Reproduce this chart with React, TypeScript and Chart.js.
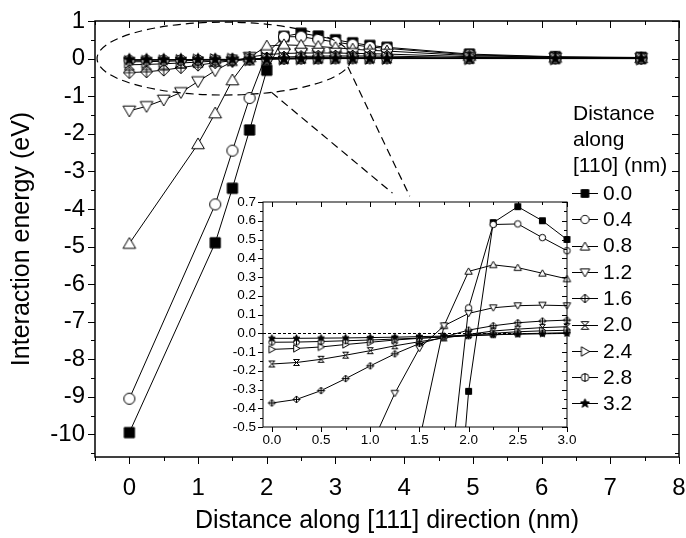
import React, { useEffect, useRef } from "react";
import { Chart, registerables } from "chart.js";

Chart.register(...registerables);

const FONT = "'Liberation Sans', Arial, Helvetica, sans-serif";

// Distance along [111] (nm)
const distance111 = [0, 0.25, 0.5, 0.75, 1, 1.25, 1.5, 1.75, 2, 2.25, 2.5, 2.75, 3, 3.25, 3.5, 3.75, 4.95, 6.2, 7.45];

// Distance along [110] (nm) - series labels
const series110Labels = ["0.0", "0.4", "0.8", "1.2", "1.6", "2.0", "2.4", "2.8", "3.2"];

// Interaction energy (eV) per series
const energy00 = [-9.95, null, null, null, null, -4.9, -3.45, -1.9, -0.31, 0.59, 0.675, 0.6, 0.5, 0.42, 0.35, 0.3, 0.12, 0.05, 0.03];
const energy04 = [-9.05, null, null, null, null, -3.88, -2.45, -1.05, 0.135, 0.58, 0.583, 0.51, 0.44, 0.37, 0.31, 0.27, 0.1, 0.04, 0.02];
const energy08 = [-4.92, null, null, null, -2.27, -1.45, -0.57, 0.04, 0.33, 0.365, 0.35, 0.32, 0.29, 0.25, 0.22, 0.2, 0.08, 0.03, 0.02];
const energy12 = [-1.39, -1.27, -1.1, -0.9, -0.61, -0.32, -0.08, 0.04, 0.106, 0.136, 0.147, 0.15, 0.147, 0.14, 0.13, 0.12, 0.05, 0.02, 0.01];
const energy16 = [-0.372, -0.353, -0.306, -0.242, -0.174, -0.11, -0.055, -0.02, 0.017, 0.04, 0.056, 0.065, 0.07, 0.07, 0.068, 0.065, 0.03, 0.015, 0.01];
const energy20 = [-0.164, -0.156, -0.139, -0.117, -0.093, -0.067, -0.045, -0.025, -0.006, 0.012, 0.022, 0.03, 0.035, 0.035, 0.033, 0.03, 0.015, 0.007, 0.004];
const energy24 = [-0.086, -0.081, -0.073, -0.06, -0.048, -0.036, -0.027, -0.018, -0.01, 0.0, 0.008, 0.013, 0.016, 0.017, 0.016, 0.015, 0.008, 0.004, 0.002];
const energy28 = [-0.048, -0.047, -0.044, -0.04, -0.036, -0.031, -0.026, -0.02, -0.014, -0.008, -0.003, 0.0, 0.003, 0.004, 0.004, 0.004, 0.002, 0.001, 0.0];
const energy32 = [-0.027, -0.027, -0.026, -0.025, -0.023, -0.021, -0.018, -0.015, -0.012, -0.008, -0.005, -0.003, -0.001, 0.0, 0.0, 0.0, 0.0, 0.0, 0.0];

const allEnergies = [energy00, energy04, energy08, energy12, energy16, energy20, energy24, energy28, energy32];
const markerShapes = ["square", "circle", "triUp", "triDown", "diamondPlus", "hourglass", "triRight", "circleBar", "star"];

// Tick labels
const xTickValues = [0, 1, 2, 3, 4, 5, 6, 7, 8];
const yTickValues = [-10, -9, -8, -7, -6, -5, -4, -3, -2, -1, 0, 1];
const insetXTickValues = [0, 0.5, 1, 1.5, 2, 2.5, 3];
const insetYTickValues = [-0.5, -0.4, -0.3, -0.2, -0.1, 0, 0.1, 0.2, 0.3, 0.4, 0.5, 0.6, 0.7];

// Zoom annotation (data units of the main chart)
const zoomEllipse = { cx: 1.38, cy: 0.0, rx: 1.85, ry: 0.97 };
const zoomLines = [
  [2.07, -0.9, 3.83, -3.58],
  [3.18, -0.22, 4.08, -3.66],
];

function makeMarker(shape: string, size: number, lw = 1): HTMLCanvasElement {
  const pad = 2;
  const d = Math.ceil(size + pad * 2);
  const c = document.createElement("canvas");
  c.width = d;
  c.height = d;
  const ctx = c.getContext("2d") as CanvasRenderingContext2D;
  ctx.translate(d / 2, d / 2);
  const r = size / 2;
  ctx.lineWidth = lw;
  ctx.strokeStyle = "#000";
  ctx.fillStyle = "#fff";
  ctx.lineJoin = "miter";
  ctx.beginPath();
  switch (shape) {
    case "square":
      ctx.rect(-r * 0.85, -r * 0.85, r * 1.7, r * 1.7);
      ctx.fillStyle = "#000";
      ctx.fill();
      ctx.stroke();
      break;
    case "circle":
      ctx.arc(0, 0, r * 0.92, 0, Math.PI * 2);
      ctx.fill();
      ctx.stroke();
      break;
    case "triUp":
      ctx.moveTo(0, -r);
      ctx.lineTo(r * 1.05, r * 0.8);
      ctx.lineTo(-r * 1.05, r * 0.8);
      ctx.closePath();
      ctx.fill();
      ctx.stroke();
      break;
    case "triDown":
      ctx.moveTo(0, r);
      ctx.lineTo(r * 1.05, -r * 0.8);
      ctx.lineTo(-r * 1.05, -r * 0.8);
      ctx.closePath();
      ctx.fill();
      ctx.stroke();
      break;
    case "triRight":
      ctx.moveTo(r, 0);
      ctx.lineTo(-r * 0.8, -r * 1.05);
      ctx.lineTo(-r * 0.8, r * 1.05);
      ctx.closePath();
      ctx.fill();
      ctx.stroke();
      break;
    case "diamondPlus":
      ctx.moveTo(0, -r);
      ctx.lineTo(r, 0);
      ctx.lineTo(0, r);
      ctx.lineTo(-r, 0);
      ctx.closePath();
      ctx.fill();
      ctx.stroke();
      ctx.beginPath();
      ctx.moveTo(0, -r);
      ctx.lineTo(0, r);
      ctx.moveTo(-r, 0);
      ctx.lineTo(r, 0);
      ctx.stroke();
      break;
    case "hourglass":
      ctx.moveTo(-r * 0.85, -r * 0.85);
      ctx.lineTo(r * 0.85, -r * 0.85);
      ctx.lineTo(-r * 0.85, r * 0.85);
      ctx.lineTo(r * 0.85, r * 0.85);
      ctx.closePath();
      ctx.stroke();
      break;
    case "circleBar":
      ctx.arc(0, 0, r * 0.85, 0, Math.PI * 2);
      ctx.fill();
      ctx.stroke();
      ctx.beginPath();
      ctx.moveTo(0, -r);
      ctx.lineTo(0, r);
      ctx.stroke();
      break;
    case "star": {
      for (let k = 0; k < 10; k++) {
        const rad = k % 2 === 0 ? r * 1.05 : r * 0.45;
        const a = -Math.PI / 2 + (k * Math.PI) / 5;
        const px = Math.cos(a) * rad;
        const py = Math.sin(a) * rad;
        if (k === 0) ctx.moveTo(px, py);
        else ctx.lineTo(px, py);
      }
      ctx.closePath();
      ctx.fillStyle = "#000";
      ctx.fill();
      ctx.stroke();
      break;
    }
  }
  return c;
}

function buildDatasets(markerSize: number, maxX: number) {
  return allEnergies.map((vals, i) => {
    const pts: { x: number; y: number }[] = [];
    distance111.forEach((x, j) => {
      const y = vals[j];
      if (y !== null && y !== undefined && x <= maxX) pts.push({ x, y });
    });
    const img = makeMarker(markerShapes[i], markerSize);
    return {
      label: series110Labels[i],
      data: pts,
      order: allEnergies.length - 1 - i,
      borderColor: "#000",
      backgroundColor: "#fff",
      borderWidth: 1,
      pointStyle: img,
      pointRadius: markerSize / 2,
      pointHoverRadius: markerSize / 2,
      tension: 0,
      fill: false,
    } as any;
  });
}

function midpoints(vals: number[], extraBefore: boolean, extraAfter: boolean) {
  const out: number[] = [];
  const step = vals[1] - vals[0];
  if (extraBefore) out.push(vals[0] - step / 2);
  for (let i = 0; i < vals.length - 1; i++) out.push((vals[i] + vals[i + 1]) / 2);
  if (extraAfter) out.push(vals[vals.length - 1] + step / 2);
  return out;
}

function framePlugin(cfg: {
  lw: number;
  major: number;
  minor: number;
  xMajor: number[];
  xMinor: number[];
  yMajor: number[];
  yMinor: number[];
}) {
  return {
    id: "frameTicks",
    afterDraw(chart: any) {
      const { ctx, chartArea: a } = chart;
      const xs = chart.scales.x;
      const ys = chart.scales.y;
      ctx.save();
      ctx.strokeStyle = "#000";
      ctx.lineWidth = cfg.lw;
      ctx.setLineDash([]);
      ctx.strokeRect(a.left, a.top, a.right - a.left, a.bottom - a.top);
      const tick = (v: number, len: number, isX: boolean) => {
        if (isX) {
          const p = Math.round(xs.getPixelForValue(v)) + 0.5;
          if (p < a.left - 1 || p > a.right + 1) return;
          ctx.moveTo(p, a.bottom);
          ctx.lineTo(p, a.bottom + len);
          ctx.moveTo(p, a.top);
          ctx.lineTo(p, a.top + len);
        } else {
          const p = Math.round(ys.getPixelForValue(v)) + 0.5;
          if (p < a.top - 1 || p > a.bottom + 1) return;
          ctx.moveTo(a.left, p);
          ctx.lineTo(a.left - len, p);
          ctx.moveTo(a.right, p);
          ctx.lineTo(a.right - len, p);
        }
      };
      ctx.beginPath();
      ctx.lineWidth = 1;
      cfg.xMajor.forEach((v) => tick(v, cfg.major, true));
      cfg.xMinor.forEach((v) => tick(v, cfg.minor, true));
      cfg.yMajor.forEach((v) => tick(v, cfg.major, false));
      cfg.yMinor.forEach((v) => tick(v, cfg.minor, false));
      ctx.stroke();
      ctx.restore();
    },
  };
}

export default function App() {
  const mainRef = useRef<HTMLCanvasElement | null>(null);
  const insetRef = useRef<HTMLCanvasElement | null>(null);

  useEffect(() => {
    document.body.style.margin = "0";
    const mainCanvas = mainRef.current!;
    const insetCanvas = insetRef.current!;

    const legendMarkers = markerShapes.map((s) => makeMarker(s, 9));

    const annotationPlugin = {
      id: "zoomAnnotation",
      afterDatasetsDraw(chart: any) {
        const { ctx } = chart;
        const xs = chart.scales.x;
        const ys = chart.scales.y;
        ctx.save();
        ctx.strokeStyle = "#000";
        ctx.lineWidth = 1.2;
        ctx.setLineDash([8, 5]);
        const cx = xs.getPixelForValue(zoomEllipse.cx);
        const cy = ys.getPixelForValue(zoomEllipse.cy);
        const rx = Math.abs(xs.getPixelForValue(zoomEllipse.cx + zoomEllipse.rx) - cx);
        const ry = Math.abs(ys.getPixelForValue(zoomEllipse.cy + zoomEllipse.ry) - cy);
        ctx.beginPath();
        ctx.ellipse(cx, cy, rx, ry, 0, 0, Math.PI * 2);
        ctx.stroke();
        zoomLines.forEach(([x1, y1, x2, y2]) => {
          ctx.beginPath();
          ctx.moveTo(xs.getPixelForValue(x1), ys.getPixelForValue(y1));
          ctx.lineTo(xs.getPixelForValue(x2), ys.getPixelForValue(y2));
          ctx.stroke();
        });
        ctx.restore();
      },
    };

    const legendPlugin = {
      id: "customLegend",
      afterDraw(chart: any) {
        const { ctx } = chart;
        ctx.save();
        ctx.fillStyle = "#000";
        ctx.font = `21px ${FONT}`;
        ctx.textBaseline = "middle";
        ctx.textAlign = "left";
        const left = 573;
        ["Distance", "along", "[110] (nm)"].forEach((t, i) => {
          ctx.fillText(t, left, 114 + i * 26.3);
        });
        series110Labels.forEach((lab, i) => {
          const y = 193 + i * 26.3;
          ctx.strokeStyle = "#000";
          ctx.lineWidth = 1;
          ctx.beginPath();
          ctx.moveTo(572, Math.round(y) + 0.5);
          ctx.lineTo(598, Math.round(y) + 0.5);
          ctx.stroke();
          const m = legendMarkers[i];
          ctx.drawImage(m, 585 - m.width / 2, Math.round(y) + 0.5 - m.height / 2);
          ctx.fillText(lab, 603, y + 1);
        });
        ctx.restore();
      },
    };

    const mainChart = new Chart(mainCanvas, {
      type: "line",
      data: { datasets: buildDatasets(12, 100) },
      options: {
        animation: false,
        responsive: false,
        devicePixelRatio: 1,
        events: [],
        layout: { padding: { left: 0, right: 5, top: 21, bottom: 0 } },
        plugins: { legend: { display: false }, tooltip: { enabled: false } },
        scales: {
          x: {
            type: "linear",
            min: -0.5,
            max: 8,
            afterBuildTicks: (s: any) => {
              s.ticks = xTickValues.map((v) => ({ value: v }));
            },
            afterFit: (s: any) => {
              s.height = 81;
              s.paddingLeft = 0;
              s.paddingRight = 0;
            },
            grid: { display: false, drawTicks: false },
            border: { display: false },
            ticks: {
              color: "#000",
              font: { family: FONT, size: 24 },
              padding: 17,
              maxRotation: 0,
              autoSkip: false,
              callback: (v: any) => String(v),
            },
            title: {
              display: true,
              text: "Distance along [111] direction (nm)",
              color: "#000",
              font: { family: FONT, size: 25 },
              padding: { top: 0, bottom: 2 },
            },
          },
          y: {
            type: "linear",
            min: -10.6,
            max: 1,
            afterBuildTicks: (s: any) => {
              s.ticks = yTickValues.map((v) => ({ value: v }));
            },
            afterFit: (s: any) => {
              s.width = 95;
              s.paddingTop = 0;
              s.paddingBottom = 0;
            },
            grid: { display: false, drawTicks: false },
            border: { display: false },
            ticks: {
              color: "#000",
              font: { family: FONT, size: 24 },
              padding: 10,
              autoSkip: false,
              callback: (v: any) => String(v),
            },
            title: {
              display: true,
              text: "Interaction energy (eV)",
              color: "#000",
              font: { family: FONT, size: 25 },
              padding: { top: 7, bottom: 0 },
            },
          },
        },
      } as any,
      plugins: [
        annotationPlugin,
        framePlugin({
          lw: 1.5,
          major: 7,
          minor: 4,
          xMajor: xTickValues,
          xMinor: midpoints(xTickValues, true, false),
          yMajor: yTickValues,
          yMinor: midpoints(yTickValues, true, true),
        }),
        legendPlugin,
      ],
    });

    const zeroLinePlugin = {
      id: "zeroLine",
      beforeDatasetsDraw(chart: any) {
        const { ctx, chartArea: a } = chart;
        const y = Math.round(chart.scales.y.getPixelForValue(0)) + 0.5;
        ctx.save();
        ctx.strokeStyle = "#000";
        ctx.lineWidth = 1;
        ctx.setLineDash([3, 2]);
        ctx.beginPath();
        ctx.moveTo(a.left, y);
        ctx.lineTo(a.right, y);
        ctx.stroke();
        ctx.restore();
      },
    };

    const insetDatasets = buildDatasets(7, 3).map((d: any) => ({
      ...d,
      clip: { left: 8, right: 8, top: 0, bottom: 0 },
    }));

    const insetChart = new Chart(insetCanvas, {
      type: "line",
      data: { datasets: insetDatasets },
      options: {
        animation: false,
        responsive: false,
        devicePixelRatio: 1,
        events: [],
        layout: { padding: { left: 213, right: 119, top: 202, bottom: 81 } },
        plugins: { legend: { display: false }, tooltip: { enabled: false } },
        scales: {
          x: {
            type: "linear",
            min: -0.09,
            max: 3,
            afterBuildTicks: (s: any) => {
              s.ticks = insetXTickValues.map((v) => ({ value: v }));
            },
            afterFit: (s: any) => {
              s.height = 30;
              s.paddingLeft = 0;
              s.paddingRight = 0;
            },
            grid: { display: false, drawTicks: false },
            border: { display: false },
            ticks: {
              color: "#000",
              font: { family: FONT, size: 13.5 },
              padding: 5,
              maxRotation: 0,
              autoSkip: false,
              callback: (v: any) => Number(v).toFixed(1),
            },
          },
          y: {
            type: "linear",
            min: -0.5,
            max: 0.7,
            afterBuildTicks: (s: any) => {
              s.ticks = insetYTickValues.map((v) => ({ value: v }));
            },
            afterFit: (s: any) => {
              s.width = 50;
              s.paddingTop = 0;
              s.paddingBottom = 0;
            },
            grid: { display: false, drawTicks: false },
            border: { display: false },
            ticks: {
              color: "#000",
              font: { family: FONT, size: 13.5 },
              padding: 7,
              autoSkip: false,
              callback: (v: any) => Number(v).toFixed(1),
            },
          },
        },
      } as any,
      plugins: [
        zeroLinePlugin,
        framePlugin({
          lw: 1,
          major: 5,
          minor: 3,
          xMajor: insetXTickValues,
          xMinor: midpoints(insetXTickValues, false, false),
          yMajor: insetYTickValues,
          yMinor: midpoints(insetYTickValues, false, false),
        }),
      ],
    });

    return () => {
      mainChart.destroy();
      insetChart.destroy();
    };
  }, []);

  return (
    <div style={{ position: "fixed", left: 0, top: 0, width: 686, height: 538, background: "#fff" }}>
      <canvas ref={mainRef} width={686} height={538} style={{ position: "absolute", left: 0, top: 0 }} />
      <canvas
        ref={insetRef}
        width={686}
        height={538}
        style={{ position: "absolute", left: 0, top: 0, pointerEvents: "none" }}
      />
    </div>
  );
}
